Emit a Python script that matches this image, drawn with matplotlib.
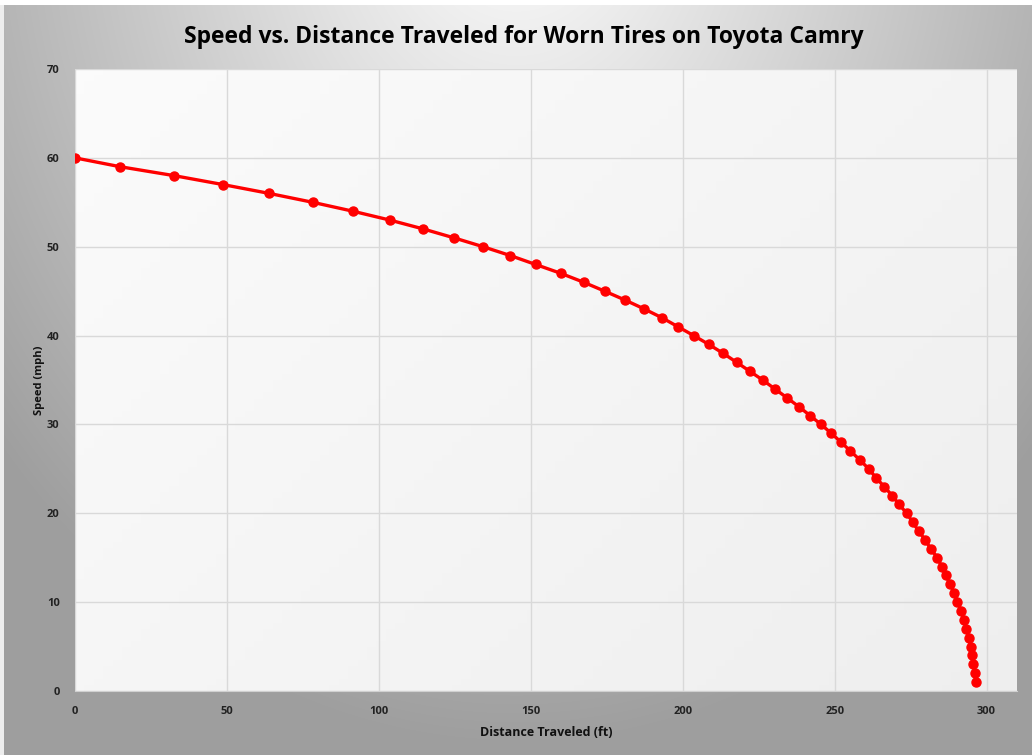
import numpy as np
import matplotlib
matplotlib.use("Agg")
import matplotlib.pyplot as plt

speed = list(range(60, 0, -1))
distance = [0.0, 14.9, 32.6, 48.6, 63.9, 78.2, 91.4, 103.6, 114.6, 124.7,
            134.3, 143.3, 151.6, 159.9, 167.4, 174.3, 181.0, 187.3, 193.2, 198.4,
            203.6, 208.6, 213.3, 217.7, 222.0, 226.3, 230.3, 234.3, 238.2, 241.9,
            245.5, 248.9, 252.1, 255.2, 258.3, 261.2, 263.6, 266.3, 268.9, 271.2,
            273.7, 275.7, 277.6, 279.8, 281.6, 283.8, 285.2, 286.6, 288.0, 289.4,
            290.4, 291.7, 292.5, 293.3, 294.2, 294.7, 295.2, 295.6, 296.2, 296.4]
x_ticks = [0, 50, 100, 150, 200, 250, 300]
y_ticks = [0, 10, 20, 30, 40, 50, 60, 70]
title = "Speed vs. Distance Traveled for Worn Tires on Toyota Camry"
xlabel = "Distance Traveled (ft)"
ylabel = "Speed (mph)"

plt.rcParams['font.family'] = ["Open Sans", "DejaVu Sans"]

W, H = 1032, 755
fig = plt.figure(figsize=(W / 100, H / 100), dpi=100)

# Outer gradient background
bg = fig.add_axes([0, 0, 1, 1], zorder=-10)
yy, xx = np.mgrid[0:H, 0:W]
cx, cy = W * 0.5, -H * 0.15
r = np.sqrt(((xx - cx) / (W * 0.7)) ** 2 + ((yy - cy) / (H * 1.2)) ** 2)
val = np.clip(1.0 - 0.40 * r, 0.62, 1.0)
img = np.dstack([val, val, val])
img[0:5, :, :] = 1.0
img[:, 0:4, :] = np.maximum(img[:, 0:4, :], 0.93)
bg.imshow(img, aspect='auto', extent=[0, 1, 0, 1], origin='upper')
bg.set_axis_off()

left, right = 75 / W, 1017 / W
bottom, top = 1 - 691 / H, 1 - 69 / H
ax = fig.add_axes([left, bottom, right - left, top - bottom])

# plot area gradient
gy, gx = np.mgrid[0:100, 0:100] / 99.0
pv = 0.985 - 0.05 * (0.6 * gx + 0.4 * gy)
ax.imshow(np.dstack([pv, pv, pv]), aspect='auto', extent=[0, 310, 0, 70],
          origin='upper', zorder=0)

ax.plot(distance, speed, color='#ff0000', lw=2.4, marker='o', ms=6.5,
        markerfacecolor='#ff0000', markeredgecolor='#ff0000', zorder=3,
        solid_capstyle='round')

ax.set_xlim(0, 310)
ax.set_ylim(0, 70)
ax.set_xticks(x_ticks)
ax.set_yticks(y_ticks)
ax.grid(True, color='#d9d9d9', lw=1.0, zorder=1)
ax.set_axisbelow(True)
for s in ['top', 'right', 'left']:
    ax.spines[s].set_visible(False)
ax.spines['bottom'].set_color('#d0d0d0')
ax.tick_params(length=0, labelsize=8, colors='#222222', pad=11)
for lab in ax.get_xticklabels() + ax.get_yticklabels():
    lab.set_fontweight('bold')
ax.set_xlabel(xlabel, fontsize=9, fontweight='bold', color='#111111', labelpad=6)
ax.set_ylabel(ylabel, fontsize=8, fontweight='bold', color='#111111', labelpad=1)

fig.text(0.508, 1 - 37 / H, title, ha='center', va='center', fontsize=16.5,
         fontweight='bold', color='#000000')

fig.savefig("out.png", dpi=100)
